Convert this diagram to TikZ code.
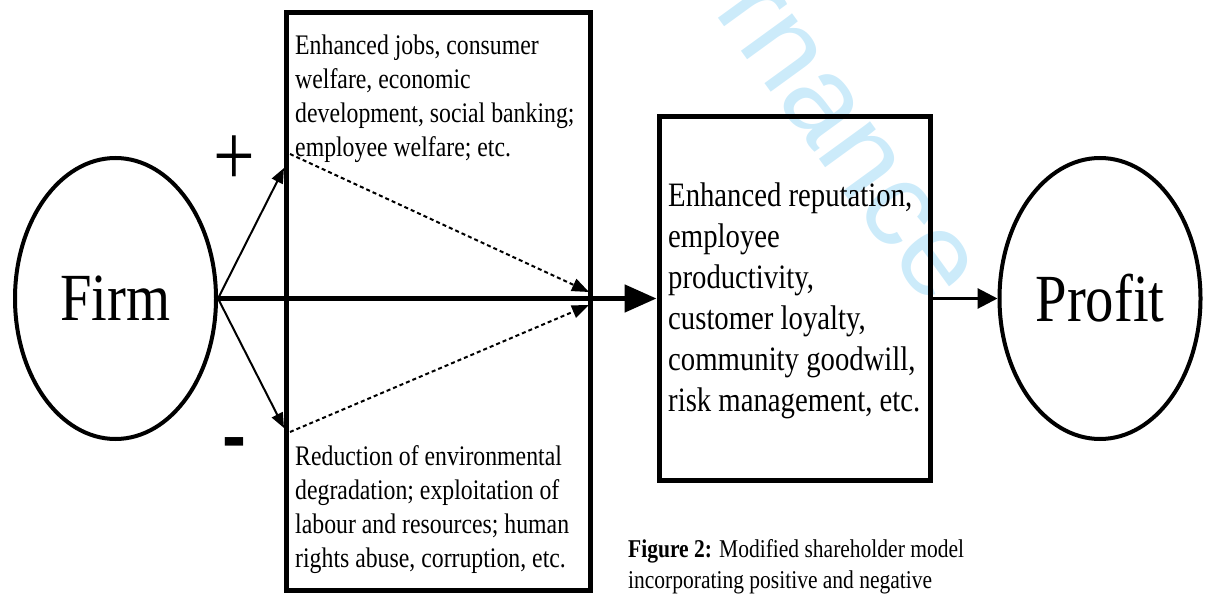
\documentclass[tikz,border=0pt]{standalone}
\usepackage{fontspec}
\setmainfont{Liberation Serif}[FakeStretch=0.84]
\newfontfamily\wmfont{Liberation Sans}
\usetikzlibrary{arrows.meta,shapes.geometric}
\definecolor{wmblue}{RGB}{204,235,250}
\tikzset{
  oval/.style={draw, ellipse, line width=4pt, minimum width=201pt, minimum height=281pt, inner sep=0pt, font=\fontsize{67.4}{70}\selectfont},
  frame/.style={draw, rectangle, line width=5pt, inner sep=0pt},
  txt/.style={inner sep=0pt, anchor=base west, align=flush left},
  wm/.style={text=wmblue, inner sep=0pt, font=\wmfont\fontsize{120}{120}\selectfont},
  sidearrow/.style={line width=2pt, -{Triangle[length=15pt,width=12pt]}},
  dotarrow/.style={line width=2pt, dash pattern=on 4pt off 3pt, -{Triangle[length=17pt,width=13pt]}},
  mainarrow/.style={line width=5pt, -{Triangle[length=32pt,width=27pt]}},
  outarrow/.style={line width=3pt, -{Triangle[length=20pt,width=20pt]}}
}
\begin{document}
\begin{tikzpicture}[x=1pt,y=-1pt]
  \useasboundingbox (0,0) rectangle (1207,596);
  \node[wm, rotate=-54] (mark) at (770,20) {Governance};

  \node[oval] (firm) at (115.5,298.5) {Firm};
  \node[oval] (profit) at (1100,298.5) {Profit};
  \node[frame, minimum width=304pt, minimum height=578pt] (impact) at (438,301.5) {};
  \node[frame, minimum width=271pt, minimum height=364pt] (benefit) at (794.5,298.5) {};

  \node[txt, font=\fontsize{28.3}{34}\selectfont, text width=295pt] (posnote) at (295,55)
    {Enhanced jobs, consumer\\ welfare, economic\\ development, social banking;\\ employee welfare; etc.};
  \node[txt, font=\fontsize{28.3}{34}\selectfont, text width=295pt] (negnote) at (295,465)
    {Reduction of environmental\\ degradation; exploitation of\\ labour and resources; human\\ rights abuse, corruption, etc.};
  \node[txt, font=\fontsize{34.2}{41}\selectfont, text width=262pt] (gainnote) at (668,207)
    {Enhanced reputation,\\ employee\\ productivity,\\ customer loyalty,\\ community goodwill,\\ risk management, etc.};
  \node[txt, font=\fontsize{25.6}{31}\selectfont, text width=420pt] (caption) at (628,557)
    {\textbf{Figure 2:} Modified shareholder model\\ incorporating positive and negative};

  \node[inner sep=0pt, font=\fontsize{88}{88}\selectfont] (plus) at (234,161) {+};
  \node[inner sep=0pt, font=\wmfont\bfseries\fontsize{72}{72}\selectfont] (minus) at (234,449) {-};

  \coordinate (uptip) at (284,168);
  \coordinate (downtip) at (284,428);
  \coordinate (gainstart) at (290,154);
  \coordinate (gainend) at (589,292);
  \coordinate (lossstart) at (290,432);
  \coordinate (lossend) at (589,305);

  \draw[sidearrow] (firm.east) -- (uptip);
  \draw[sidearrow] (firm.east) -- (downtip);
  \draw[dotarrow] (gainstart) -- (gainend);
  \draw[dotarrow] (lossstart) -- (lossend);
  \draw[mainarrow] (firm.east) -- (benefit.west);
  \draw[outarrow] (benefit.east) -- (profit.west);
\end{tikzpicture}
\end{document}
